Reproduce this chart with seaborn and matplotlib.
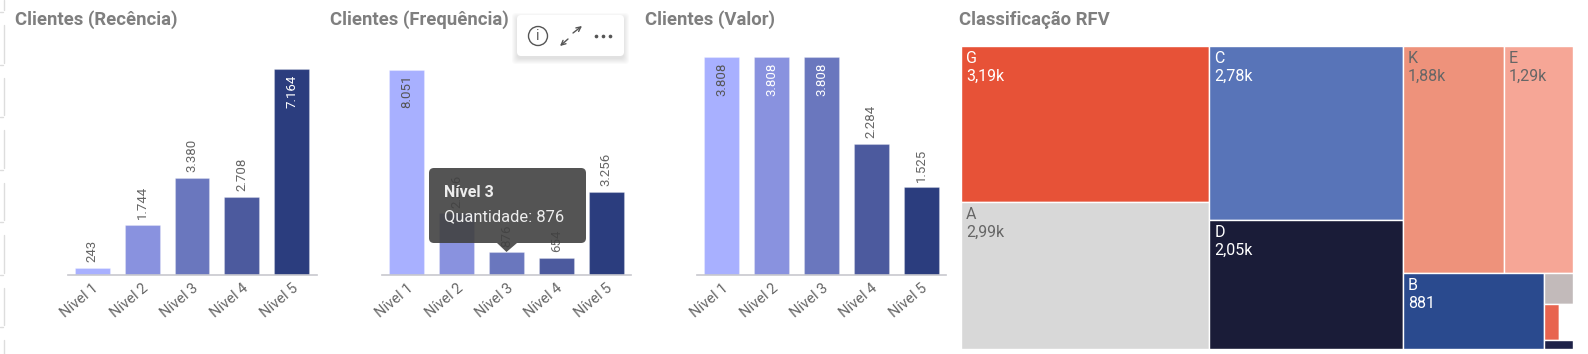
import matplotlib
matplotlib.use("Agg")
import matplotlib.pyplot as plt
import pandas as pd
import seaborn as sns
from matplotlib.patches import Circle, FancyBboxPatch, Polygon, Rectangle

sns.set_theme(style="white")
plt.rcParams["font.family"] = ["Roboto", "DejaVu Sans"]

W, H = 1588, 354

niveis = ["Nível 1", "Nível 2", "Nível 3", "Nível 4", "Nível 5"]
recencia = [243, 1744, 3380, 2708, 7164]
frequencia = [8051, 2396, 876, 654, 3256]
valor = [3808, 3808, 3808, 2284, 1525]
nivel_cores = ["#A8B0FF", "#8992DF", "#6A77BE", "#4C5A9E", "#2B3D7E"]

rfv_nomes = ["G", "A", "C", "D", "K", "E", "B", "x1", "x2", "x3", "x4"]
rfv_valores = [3190, 2990, 2780, 2050, 1880, 1290, 881, 74, 43, 42, 20]
rfv_textos = ["3,19k", "2,99k", "2,78k", "2,05k", "1,88k", "1,29k", "881", "", "", "", ""]
rfv_cores = ["#E75237", "#D8D8D8", "#5874B8", "#1A1C38", "#EE927B", "#F6A696",
             "#2A4A8E", "#C2BABA", "#E8644F", "#FFFFFF", "#1E2248"]
rfv_escuros = ["G", "C", "D", "B"]

# nesting of the treemap: h = side by side, v = stacked
rfv_arvore = ("h", [
    ("v", ["G", "A"]),
    ("v", ["C", "D"]),
    ("v", [
        ("h", ["K", "E"]),
        ("h", ["B", ("v", ["x1", ("h", ["x2", "x3"]), "x4"])]),
    ]),
])

CINZA = "#666666"
fig = plt.figure(figsize=(W / 100, H / 100), dpi=100, facecolor="white")


def px_axes(left, top, right, bottom):
    return fig.add_axes([left / W, 1 - bottom / H, (right - left) / W, (bottom - top) / H])


def barras(valores, left, bar_px):
    baseline, top = 274.5, 40
    ax = px_axes(left, top, left + 249, baseline)
    df = pd.DataFrame({"nivel": niveis, "qtd": valores})
    sns.barplot(data=df, x="nivel", y="qtd", hue="nivel", palette=nivel_cores, legend=False,
                width=0.7, saturation=1, edgecolor=(1, 1, 1, 0.25), linewidth=0.8, ax=ax)
    escala = bar_px / max(valores)
    ax.set_xlim(-0.5, 4.5)
    ax.set_ylim(0, (baseline - top) / escala)
    sns.despine(ax=ax, left=True)
    ax.spines["bottom"].set_color("#C8C8CE")
    ax.spines["bottom"].set_linewidth(1.2)
    ax.set_xlabel("")
    ax.set_ylabel("")
    ax.set_yticks([])
    ax.patch.set_alpha(0)
    ax.tick_params(axis="x", length=0, pad=5)
    for lab in ax.get_xticklabels():
        lab.set(rotation=40, ha="right", rotation_mode="anchor", color=CINZA, fontsize=10.5)

    for i, v in enumerate(valores):
        txt = f"{v:,}".replace(",", ".")
        if v * escala > 150:
            cor = "#FFFFFF" if i > 0 else "#555555"
            ax.annotate(txt, (i, v), xytext=(0, -4), textcoords="offset points", rotation=90,
                        ha="center", va="top", fontsize=9.5, color=cor)
        else:
            ax.annotate(txt, (i, v), xytext=(0, 4), textcoords="offset points", rotation=90,
                        ha="center", va="bottom", fontsize=9.5, color=CINZA)


barras(recencia, 67.5, 205)
barras(frequencia, 382, 205)
barras(valor, 697, 217.7)


def dispor(no, x0, y0, x1, y1, soma, saida):
    # slice the rectangle along the node direction, proportional to the values
    if isinstance(no, str):
        saida[no] = (x0, y0, x1, y1)
        return
    direcao, filhos = no
    total = sum(soma(f) for f in filhos)
    pos = x0 if direcao == "h" else y0
    for f in filhos:
        frac = soma(f) / total
        if direcao == "h":
            passo = (x1 - x0) * frac
            dispor(f, pos, y0, pos + passo, y1, soma, saida)
        else:
            passo = (y1 - y0) * frac
            dispor(f, x0, pos, x1, pos + passo, soma, saida)
        pos += passo


def soma_no(no):
    if isinstance(no, str):
        return rfv_valores[rfv_nomes.index(no)]
    return sum(soma_no(f) for f in no[1])


ax_t = px_axes(961.3, 46, 1573, 348.7)
ax_t.set_xlim(0, 1)
ax_t.set_ylim(1, 0)
ax_t.axis("off")
celulas = {}
dispor(rfv_arvore, 0, 0, 1, 1, soma_no, celulas)
for nome, texto, cor in zip(rfv_nomes, rfv_textos, rfv_cores):
    x0, y0, x1, y1 = celulas[nome]
    ax_t.add_patch(Rectangle((x0, y0), x1 - x0, y1 - y0, facecolor=cor, edgecolor="white", lw=1))
    if texto:
        c = "white" if nome in rfv_escuros else CINZA
        ax_t.annotate(nome, (x0, y0), xytext=(3.5, -9), textcoords="offset points",
                      va="center", fontsize=11.5, color=c)
        ax_t.annotate(texto, (x0, y0), xytext=(3.5, -22), textcoords="offset points",
                      va="center", fontsize=11.5, color=c)

# overlay in pixel coordinates: titles, tooltip, toolbar, page edge
ov = fig.add_axes([0, 0, 1, 1], zorder=10)
ov.set_xlim(0, W)
ov.set_ylim(H, 0)
ov.axis("off")
ov.patch.set_alpha(0)

titulos = ["Clientes (Recência)", "Clientes (Frequência)", "Clientes (Valor)", "Classificação RFV"]
for x, t in zip([15, 330, 645, 959], titulos):
    ov.text(x, 19.5, t, fontsize=13.3, fontweight="bold", color="#7F7F7F", va="center")

# tooltip
ov.add_patch(FancyBboxPatch((432, 171), 151, 69, boxstyle="round,pad=3,rounding_size=5",
                            facecolor="#414141", edgecolor="none", alpha=0.9))
ov.add_patch(Polygon([(497, 243), (506.5, 252), (517, 243)], facecolor="#414141", edgecolor="none", alpha=0.9))
ov.text(444, 192.5, "Nível 3", fontsize=11.5, fontweight="bold", color="#EDEDED", va="center")
ov.text(444, 217, "Quantidade: 876", fontsize=11.9, color="#EDEDED", va="center")

# toolbar
for i in range(6):
    ov.add_patch(FancyBboxPatch((520 - i, 21 - i), 101 + 2 * i, 35 + 2 * i, boxstyle="round,pad=3,rounding_size=4",
                                facecolor="black", edgecolor="none", alpha=0.018))
ov.add_patch(FancyBboxPatch((520, 18), 101, 35, boxstyle="round,pad=3,rounding_size=4",
                            facecolor="white", edgecolor="none"))
ov.add_patch(Circle((538, 36), 9.5, facecolor="none", edgecolor="#555555", lw=1))
ov.text(538, 36, "i", fontsize=10, color="#555555", ha="center", va="center")
seta = dict(arrowstyle="->", color="#555555", lw=1, mutation_scale=8, shrinkA=0, shrinkB=0)
ov.annotate("", xy=(582, 26), xytext=(573, 33), arrowprops=seta)
ov.annotate("", xy=(560, 46), xytext=(568, 39), arrowprops=seta)
ov.scatter([596, 603, 610], [36, 36, 36], s=7, color="#555555", linewidths=0)

# leftovers of the page frame at the left edge
for y0, y1 in [(-2, 12), (23, 65), (76, 117), (128, 170), (181, 222), (233, 275), (286, 327), (338, 360)]:
    ov.plot([3.5, 3.5], [y0 + 2, y1 - 2], color="#DDDDDD", lw=1)
    ov.plot([0, 2.5], [y1, y1], color="#DDDDDD", lw=1)

fig.savefig("out.png", dpi=100)
